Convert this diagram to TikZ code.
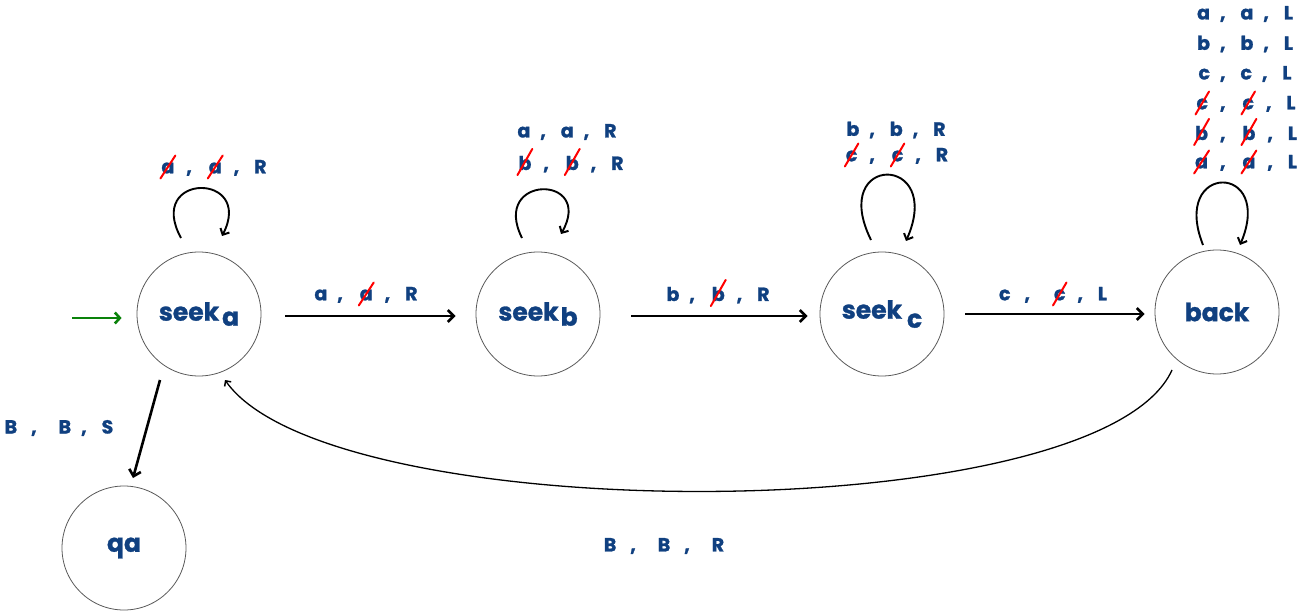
\documentclass[tikz,border=0pt]{standalone}
\usepackage{fontspec}
\setmainfont{Poppins}[BoldFeatures={FakeBold=1.2}]
\usetikzlibrary{arrows.meta,calc}
\definecolor{ink}{RGB}{16,64,128}
\definecolor{startgreen}{RGB}{10,130,10}
\newcommand\strk[1]{\tikz[baseline=(x.base)]{\node[inner sep=0pt,outer sep=0pt](x){#1};\draw[red,line width=2pt,line cap=round]([shift={(-1pt,-5pt)}]x.south west)--([shift={(1pt,7pt)}]x.north east);}}
\newcommand\cm{\hspace{10pt},\hspace{15pt}}
\newcommand\wcm{\hspace{14pt},\hspace{22pt}}
\begin{document}
\begin{tikzpicture}[x=1pt,y=-1pt,
  state/.style={circle,draw=black!65,line width=0.8pt,minimum size=124pt,inner sep=0pt,
    font=\fontsize{25}{28}\selectfont\bfseries,text=ink},
  lbl/.style={font=\fontsize{19}{22}\selectfont\bfseries,text=ink,inner sep=0pt},
  tr/.style={line width=2.6pt,-{Straight Barb[length=6pt,width=12pt,line width=2.6pt]}},
  loopy/.style={line width=1.9pt,-{Straight Barb[length=5pt,width=10pt,line width=2pt]}},
  back/.style={line width=1.3pt,-{Straight Barb[length=4pt,width=8pt,line width=1.5pt]}}]
\useasboundingbox (0,0) rectangle (1305,612);

\node[state] (sa) at (199,314) {seek\hspace{3pt}\raisebox{-5pt}{a}};
\node[state] (sb) at (538,314) {seek\hspace{2pt}\raisebox{-5pt}{b}};
\node[state] (sc) at (882,314) {seek\hspace{5pt}\raisebox{-9pt}{c}};
\node[state] (bk) at (1217,312) {back};
\node[state] (qa) at (124,548) {qa};

% start arrow
\coordinate (st) at (72,318);
\draw[line width=2.6pt,startgreen,-{Straight Barb[length=5pt,width=11pt,line width=2.6pt]}] (st) -- ($(sa.west)+(-15,4)$);

% straight transitions
\draw[tr] ($(sa.east)+(24,2)$) -- ($(sb.west)+(-20,2)$);
\draw[tr] ($(sb.east)+(31,2)$) -- ($(sc.west)+(-12,2)$);
\draw[tr] ($(sc.east)+(21,0)$) -- ($(bk.west)+(-10,2)$);
\draw[tr] ($(sa)+(-39,66)$) -- ($(qa)+(9,-70)$);

% back transition
\draw[back] ($(bk)+(-45,58)$) .. controls (1100,530) and (330,530) .. ($(sa)+(26,66)$);

% self loops
\draw[loopy] ($(sa)+(-18,-76)$) .. controls +(-36,-66) and +(33,-64) .. ($(sa)+(23,-78)$);
\draw[loopy] ($(sb)+(-16,-76)$) .. controls +(-32,-64) and +(34,-60) .. ($(sb)+(23,-80)$);
\draw[loopy] ($(sc)+(-11,-74)$) .. controls +(-43,-87) and +(39,-88) .. ($(sc)+(24,-73)$);
\draw[loopy] ($(bk)+(-14,-67)$) .. controls +(-33,-83) and +(35,-83) .. ($(bk)+(23,-67)$);

% labels
\node[lbl] (l1) at (213,167) {\strk{a}\cm\strk{a}\cm R};
\node[lbl] (l2) at (366,294) {a\cm\strk{a}\cm R};
\node[lbl] (l3) at (567,132) {a\cm a\cm R};
\node[lbl] (l4) at (570,162) {\strk{b}\cm\strk{b}\cm R};
\node[lbl] (l5) at (718,293) {b\cm\strk{b}\cm R};
\node[lbl] (l6) at (896,130) {b\cm b\cm R};
\node[lbl] (l7) at (896,155) {\strk{c}\cm\strk{c}\cm R};
\node[lbl] (l8) at (1053,294) {c\wcm\strk{c}\cm L};
\node[lbl] (m1) at (1245,14) {a\cm a\cm L};
\node[lbl] (m2) at (1245,44) {b\cm b\cm L};
\node[lbl] (m3) at (1245,74) {c\cm c\cm L};
\node[lbl] (m4) at (1245,103) {\strk{c}\cm\strk{c}\cm L};
\node[lbl] (m5) at (1245,132) {\strk{b}\cm\strk{b}\cm L};
\node[lbl] (m6) at (1245,162) {\strk{a}\cm\strk{a}\cm L};
\node[lbl] (l9) at (59,428) {B\wcm B\cm S};
\node[lbl] (l10) at (664,546) {B\wcm B\wcm R};
\end{tikzpicture}
\end{document}
